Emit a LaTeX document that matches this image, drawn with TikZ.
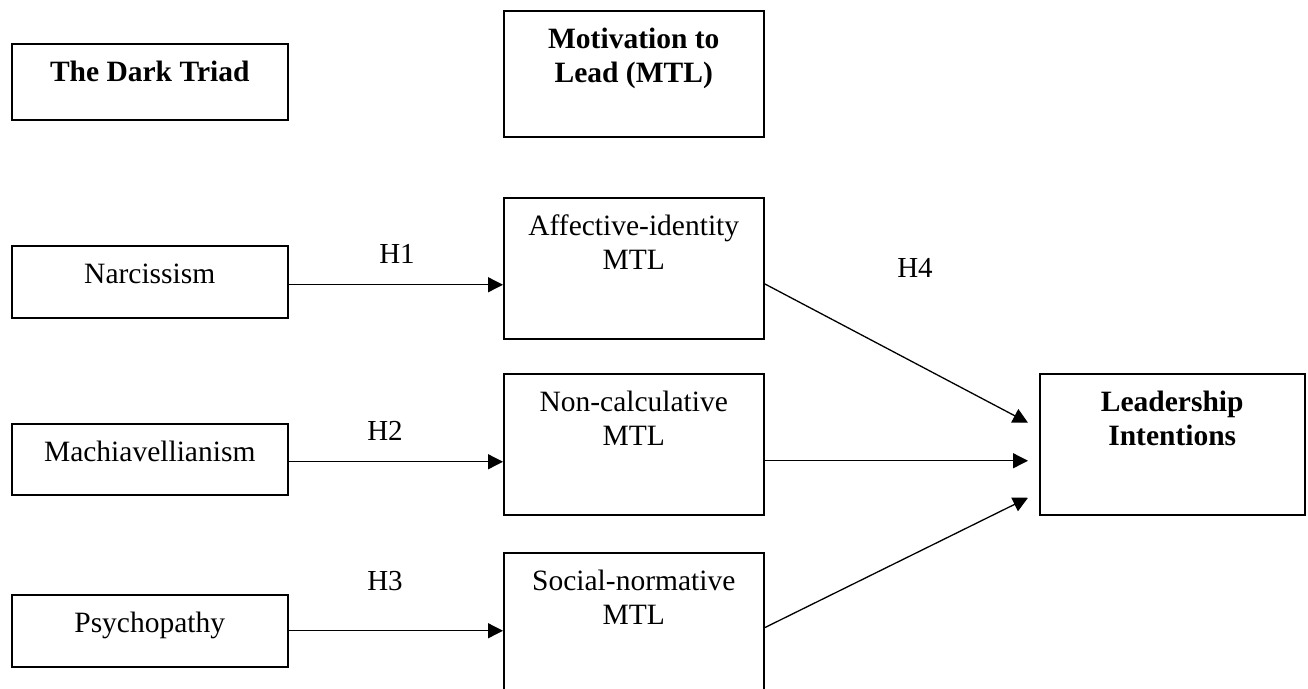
\documentclass[tikz,border=0pt]{standalone}
\usepackage{fontspec}
\setmainfont{Liberation Serif}
\usetikzlibrary{arrows.meta,calc}

\tikzset{
  box/.style={draw, line width=1.5pt, rectangle, inner sep=0pt, anchor=north west},
  boxtext/.style={anchor=base, align=center, inner sep=0pt,
    font=\fontsize{29.5}{34}\selectfont},
  hyp/.style={anchor=base, inner sep=0pt, font=\fontsize{29}{34}\selectfont},
  link/.style={line width=1.3pt, -{Triangle[length=15pt,width=15pt]}}
}

\begin{document}
\begin{tikzpicture}[x=1pt,y=-1pt]
\useasboundingbox (0,0) rectangle (1308,688);

% left column: the three traits
\node[box, minimum width=276pt, minimum height=76pt]  (triad) at (11,43)  {};
\node[box, minimum width=276pt, minimum height=72pt]  (narc)  at (11,245) {};
\node[box, minimum width=276pt, minimum height=71pt]  (mach)  at (11,423) {};
\node[box, minimum width=276pt, minimum height=72pt]  (psych) at (11,594) {};

% middle column: motivation to lead
\node[box, minimum width=260pt, minimum height=126pt] (mtl)   at (503,10)  {};
\node[box, minimum width=260pt, minimum height=141pt] (aff)   at (503,197) {};
\node[box, minimum width=260pt, minimum height=141pt] (ncalc) at (503,373) {};
\node[box, minimum width=260pt, minimum height=150pt] (snorm) at (503,552) {};

% outcome
\node[box, minimum width=265pt, minimum height=141pt] (lead)  at (1039,373) {};

% box texts: first baseline 38pt below the top edge, lines 34pt apart
% (a multi-line node's base anchor sits on its last line)
\node[boxtext] at ($(triad.north)+(0,38)$) {\textbf{The Dark Triad}};
\node[boxtext] at ($(mtl.north)+(0,72)$)   {\textbf{Motivation to}\\\textbf{Lead (MTL)}};
\node[boxtext] at ($(narc.north)+(0,38)$)  {Narcissism};
\node[boxtext] at ($(mach.north)+(0,38)$)  {Machiavellianism};
\node[boxtext] at ($(psych.north)+(0,38)$) {Psychopathy};
\node[boxtext] at ($(aff.north)+(0,72)$)   {Affective-identity\\MTL};
\node[boxtext] at ($(ncalc.north)+(0,72)$) {Non-calculative\\MTL};
\node[boxtext] at ($(snorm.north)+(0,72)$) {Social-normative\\MTL};
\node[boxtext] at ($(lead.north)+(0,72)$)  {\textbf{Leadership}\\\textbf{Intentions}};

% trait -> MTL paths
\coordinate (n1) at ($(narc.east)+(0,3)$);
\coordinate (m1) at ($(mach.east)+(0,2.5)$);
\coordinate (p1) at ($(psych.east)+(0,0)$);
\draw[link] (n1) -- (n1 -| aff.west);
\draw[link] (m1) -- (m1 -| ncalc.west);
\draw[link] (p1) -- (p1 -| snorm.west);

% MTL -> leadership intentions
\coordinate (a1) at ($(aff.east)+(0,15.5)$);
\coordinate (c1) at ($(ncalc.east)+(0,16.5)$);
\coordinate (s1) at ($(snorm.east)+(0,0)$);
\coordinate (t1) at ($(lead.west)+(-11,-21.5)$);
\coordinate (t2) at ($(lead.west)+(-11,16.5)$);
\coordinate (t3) at ($(lead.west)+(-11,53.5)$);
\draw[link] (a1) -- (t1);
\draw[link] (c1) -- (t2);
\draw[link] (s1) -- (t3);

% hypothesis labels
\node[hyp] (h1) at (397,263) {H1};
\node[hyp] (h2) at (385,440) {H2};
\node[hyp] (h3) at (385,590) {H3};
\node[hyp] (h4) at (915,277) {H4};
\end{tikzpicture}
\end{document}
